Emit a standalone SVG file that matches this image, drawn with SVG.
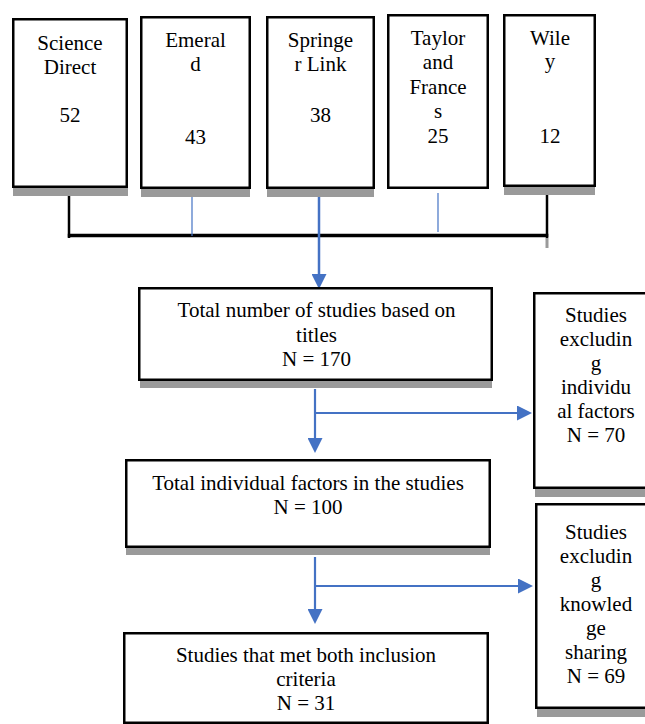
<svg xmlns="http://www.w3.org/2000/svg" width="645" height="724" viewBox="0 0 645 724" font-family="'Liberation Serif', 'Times New Roman', 'DejaVu Serif', serif">
<style>
.box{fill:#fff;stroke:#000;stroke-width:2.5}
.sh{fill:#9a9a9a}
.t{font-family:'Liberation Serif','Times New Roman','DejaVu Serif',serif;font-size:21px;fill:#000;text-anchor:middle}
.blk{stroke:#000;fill:none}
.blue{stroke:#4472C4;fill:none}
</style>
<defs>
<marker id="ah" viewBox="0 0 15 15" markerWidth="15" markerHeight="15" markerUnits="userSpaceOnUse" refX="0" refY="7.5" orient="auto">
<path d="M0,0 L15,7.5 L0,15 z" fill="#4472C4"/>
</marker>
</defs>
<rect width="645" height="724" fill="#fff"/>
<g id="connectors">
<path class="blk" d="M69,188 V238" stroke-width="2.5"/>
<path class="blk" d="M67.8,235.5 H548.3" stroke-width="3.5"/>
<path class="blk" d="M547,187 V238" stroke-width="2.5"/>
<path d="M547,238 V248" stroke="#9a9a9a" stroke-width="3"/>
<path class="blue" d="M192,190 V236" stroke-width="1.2"/>
<path class="blue" d="M438,193 V232" stroke-width="1.2"/>
<path class="blue" d="M319,189 V274" stroke-width="2.5" marker-end="url(#ah)"/>
<path class="blue" d="M315,389 V438" stroke-width="2.2" marker-end="url(#ah)"/>
<path class="blue" d="M314,413 H517" stroke-width="2.2" marker-end="url(#ah)"/>
<path class="blue" d="M315,557 V609" stroke-width="2.2" marker-end="url(#ah)"/>
<path class="blue" d="M314,586 H518" stroke-width="2.2" marker-end="url(#ah)"/>
</g>
<g id="science-direct">
<rect class="sh" x="13" y="188" width="115" height="8"/>
<rect class="box" x="13.25" y="19.25" width="113.5" height="167.5"/>
<text class="t" x="70" y="50">Science</text>
<text class="t" x="70" y="74">Direct</text>
<text class="t" x="70" y="122">52</text>
</g>
<g id="emerald">
<rect class="sh" x="141" y="189" width="109" height="8"/>
<rect class="box" x="141.25" y="17.25" width="108.5" height="170.5"/>
<text class="t" x="195.5" y="47">Emeral</text>
<text class="t" x="195.5" y="71">d</text>
<text class="t" x="195.5" y="144">43</text>
</g>
<g id="springer-link">
<rect class="sh" x="267" y="189" width="107" height="8"/>
<rect class="box" x="267.25" y="17.25" width="106.5" height="170.5"/>
<text class="t" x="320.5" y="47">Springe</text>
<text class="t" x="320.5" y="71">r Link</text>
<text class="t" x="320.5" y="122">38</text>
</g>
<g id="taylor-francis">
<rect class="box" x="388.25" y="15.25" width="99.5" height="172.5"/>
<text class="t" x="438" y="45">Taylor</text>
<text class="t" x="438" y="69">and</text>
<text class="t" x="438" y="94">France</text>
<text class="t" x="438" y="118">s</text>
<text class="t" x="438" y="143">25</text>
</g>
<g id="wiley">
<rect class="sh" x="504" y="187" width="91" height="8"/>
<rect class="box" x="504.25" y="15.25" width="90.5" height="170.5"/>
<text class="t" x="550" y="45">Wile</text>
<text class="t" x="550" y="68">y</text>
<text class="t" x="550" y="143">12</text>
</g>
<g id="total-titles">
<rect class="sh" x="140" y="381" width="352" height="7"/>
<rect class="box" x="139.25" y="288.25" width="352.5" height="91.5"/>
<text class="t" x="316.5" y="317">Total number of studies based on</text>
<text class="t" x="316.5" y="342">titles</text>
<text class="t" x="316.5" y="366">N = 170</text>
</g>
<g id="excl-individual">
<rect class="sh" x="535" y="489" width="115" height="8"/>
<rect class="box" x="534.25" y="293.25" width="120" height="194.5"/>
<text class="t" x="596" y="322">Studies</text>
<text class="t" x="596" y="346">excludin</text>
<text class="t" x="596" y="370">g</text>
<text class="t" x="596" y="394">individu</text>
<text class="t" x="596" y="418">al factors</text>
<text class="t" x="596" y="442">N = 70</text>
</g>
<g id="total-individual">
<rect class="sh" x="126" y="548" width="364" height="7"/>
<rect class="box" x="126.25" y="460.25" width="363.5" height="86.5"/>
<text class="t" x="308" y="490">Total individual factors in the studies</text>
<text class="t" x="308" y="514">N = 100</text>
</g>
<g id="excl-knowledge">
<rect class="sh" x="537" y="709" width="115" height="8"/>
<rect class="box" x="536.25" y="504.25" width="120" height="203.5"/>
<text class="t" x="596" y="539">Studies</text>
<text class="t" x="596" y="563">excludin</text>
<text class="t" x="596" y="587">g</text>
<text class="t" x="596" y="611">knowled</text>
<text class="t" x="596" y="635">ge</text>
<text class="t" x="596" y="659">sharing</text>
<text class="t" x="596" y="683">N = 69</text>
</g>
<g id="final">
<rect class="box" x="124.25" y="633.25" width="363.5" height="89.5"/>
<text class="t" x="306" y="662">Studies that met both inclusion</text>
<text class="t" x="306" y="686">criteria</text>
<text class="t" x="306" y="710">N = 31</text>
</g>
</svg>
